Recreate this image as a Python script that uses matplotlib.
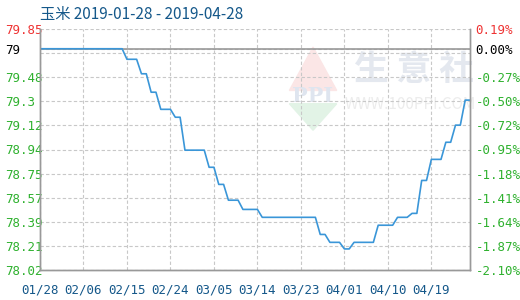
import matplotlib
matplotlib.use("Agg")
import matplotlib.pyplot as plt
from matplotlib.patches import Polygon
import numpy as np
import pandas as pd

plt.rcParams['font.family'] = ['Noto Sans CJK SC', 'DejaVu Sans']

title = "玉米 2019-01-28 - 2019-04-28"
start = "2019-01-28"
base = 79.70

# daily price, 2019-01-28 .. 2019-04-27
prices = [79.70] * 18 + [79.62] * 3 + [79.51] * 2 + [79.37] * 2 + [79.24] * 3 \
    + [79.18] * 2 + [78.93] * 5 + [78.80] * 2 + [78.67] * 2 + [78.55] * 3 \
    + [78.48] * 4 + [78.42] * 12 + [78.29] * 2 + [78.23] * 3 + [78.18] * 2 \
    + [78.23] * 5 + [78.36] * 4 + [78.42] * 3 + [78.45] * 2 + [78.70] * 2 \
    + [78.86] * 3 + [78.99] * 2 + [79.12] * 2 + [79.31] * 2
dates = pd.date_range(start, periods=len(prices), freq="D")

ymin, ymax = 78.02, 79.85
ylabels = ["78.02", "78.21", "78.39", "78.57", "78.75", "78.94",
           "79.12", "79.3", "79.48", "79", "79.85"]
plabels = ["-2.10%", "-1.87%", "-1.64%", "-1.41%", "-1.18%", "-0.95%",
           "-0.72%", "-0.50%", "-0.27%", "0.00%", "0.19%"]
xtick_labels = ["01/28", "02/06", "02/15", "02/24", "03/05",
                "03/14", "03/23", "04/01", "04/10", "04/19"]

green = "#2fb12f"
red = "#ee3333"
blue_txt = "#15588a"
grid_c = "#c8c8c8"
spine_c = "#999999"

fig = plt.figure(figsize=(5.2, 3.0), dpi=100)
ax = fig.add_axes([40 / 520, 30 / 300, 430 / 520, 241 / 300])

days = np.arange(len(prices))
ax.set_xlim(0, 89)
ax.set_ylim(ymin, ymax)

# watermark
ax.add_patch(Polygon([(0.58, 0.745), (0.635, 0.925), (0.69, 0.745)],
                     closed=True, transform=ax.transAxes, color="#fbe6e6", zorder=0))
ax.add_patch(Polygon([(0.58, 0.69), (0.635, 0.58), (0.69, 0.69)],
                     closed=True, transform=ax.transAxes, color="#e2f3e6", zorder=0))
ax.text(0.635, 0.72, "PPI", transform=ax.transAxes, ha="center", va="center",
        fontsize=15, color="#dfe5ef", family="DejaVu Serif", fontweight="bold", zorder=0)
ax.text(0.87, 0.83, "生 意 社", transform=ax.transAxes, ha="center", va="center",
        fontsize=25, color="#e4e8ef", fontweight="bold", zorder=0)
ax.text(0.86, 0.685, "WWW.100PPI.COM", transform=ax.transAxes, ha="center", va="center",
        fontsize=11, color="#ececec", zorder=0)

yt = list(np.linspace(ymin, ymax, 11))
# regular grid row just under the base line
ax.axhline(yt[9], color=grid_c, ls=(0, (3, 2)), lw=0.8, zorder=1)
yt[9] = base

ax.axhline(base, color="#999999", lw=1.2, zorder=2)
ax.plot(days, prices, color="#3a96d8", lw=1.2, zorder=3)

ax.set_yticks(yt)
ax.set_yticklabels(ylabels, family="DejaVu Sans Mono", fontsize=9)
ax.tick_params(axis="y", length=0, pad=25)
for i, t in enumerate(ax.get_yticklabels()):
    t.set_horizontalalignment("left")
    t.set_color(red if i == 10 else ("black" if i == 9 else green))

ax2 = ax.twinx()
ax2.set_ylim(ymin, ymax)
ax2.set_yticks(yt)
ax2.set_yticklabels(plabels, family="DejaVu Sans Mono", fontsize=9)
ax2.tick_params(axis="y", length=0, pad=4)
for i, t in enumerate(ax2.get_yticklabels()):
    t.set_color(red if i == 10 else ("black" if i == 9 else green))

ax.set_xticks(np.arange(0, 82, 9))
ax.set_xticklabels(xtick_labels, family="DejaVu Sans Mono", fontsize=9, color=blue_txt)
ax.tick_params(axis="x", length=0, pad=10)

ax.grid(True, color=grid_c, ls=(0, (3, 2)), lw=0.8)
ax.set_axisbelow(True)

for a in (ax, ax2):
    a.spines["top"].set_visible(False)
    for s in ("left", "bottom", "right"):
        a.spines[s].set_color(spine_c)
        a.spines[s].set_linewidth(1.0)

fig.text(40 / 520, 1 - 14 / 300, title, fontsize=11, color=blue_txt, va="center", ha="left")

fig.savefig("out.png", dpi=100)
